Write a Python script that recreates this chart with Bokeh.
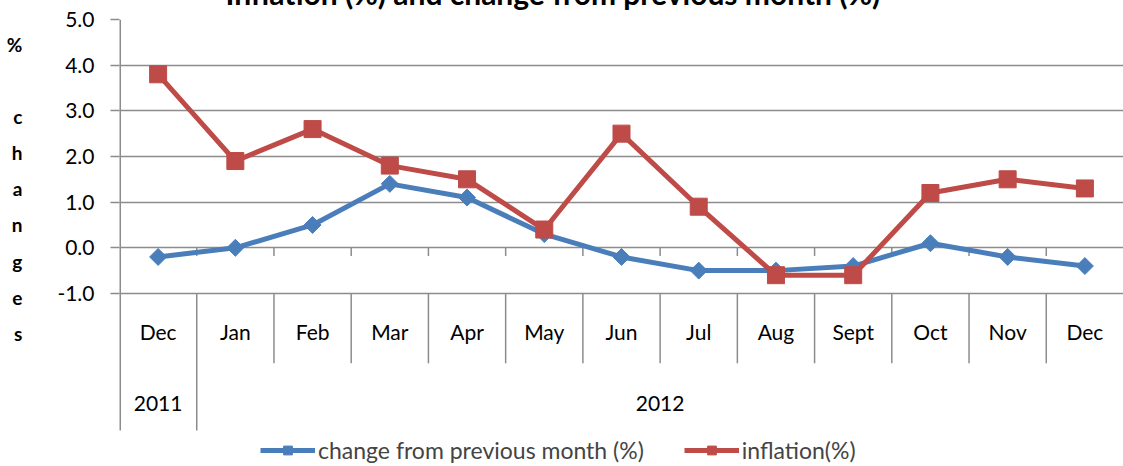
from bokeh.plotting import figure
from bokeh.models import (FactorRange, FixedTicker, Legend, LegendItem,
                          NumeralTickFormatter, ColumnDataSource, Range1d, CategoricalAxis)
from bokeh.embed import file_html
from bokeh.resources import INLINE
import math

# ---- data ----
years = ["2011"] + ["2012"] * 12
months = ["Dec", "Jan", "Feb", "Mar", "Apr", "May", "Jun", "Jul", "Aug", "Sept", "Oct", "Nov", "Dec"]
change_prev = [-0.2, 0.0, 0.5, 1.4, 1.1, 0.3, -0.2, -0.5, -0.5, -0.4, 0.1, -0.2, -0.4]
inflation = [3.8, 1.9, 2.6, 1.8, 1.5, 0.4, 2.5, 0.9, -0.6, -0.6, 1.2, 1.5, 1.3]
y_ticks = [-1.0, 0.0, 1.0, 2.0, 3.0, 4.0, 5.0]
title_text = "Inflation (%) and change from previous month (%)"
y_label = "% changes"
series_names = ["change from previous month (%)", "inflation(%)"]

FONT = "Lato"
GRID = "#8C8C8C"
BLUE = "#4A7EBB"
RED = "#BE4B48"

factors = list(zip(years, months))
src = ColumnDataSource(dict(x=factors, chg=change_prev, inf=inflation))

p = figure(x_range=FactorRange(*factors, factor_padding=0, group_padding=0, range_padding=0),
           y_range=Range1d(-4.79, 5.0),
           width=1123, height=507, output_backend="svg", toolbar_location=None,
           x_axis_location=None,
           min_border_left=119, min_border_right=0, min_border_top=60, min_border_bottom=0)
p.margin = (-41, 0, 0, 0)
p.outline_line_color = None
p.background_fill_color = "white"
p.border_fill_color = "white"

# title (its top is cut off by the page edge, as in the source image)
p.title.text = title_text
p.title.align = "left"
p.title.offset = 106
p.title.standoff = 17
p.title.text_font = FONT
p.title.text_font_size = "30px"
p.title.text_font_style = "bold"
p.title.text_color = "black"

# grid
p.xgrid.visible = False
p.ygrid.ticker = FixedTicker(ticks=y_ticks)
p.ygrid.grid_line_color = GRID
p.ygrid.grid_line_width = 1.5

# y axis
ya = p.yaxis[0]
ya.ticker = FixedTicker(ticks=y_ticks)
ya.formatter = NumeralTickFormatter(format="0.0")
ya.major_tick_out = 9
ya.major_tick_in = 0
ya.minor_tick_line_color = None
ya.axis_line_color = None
ya.major_tick_line_color = GRID
ya.major_tick_line_width = 1.5
ya.major_label_text_font = FONT
ya.major_label_text_font_size = "21px"
ya.major_label_text_color = "black"
ya.major_label_standoff = 16
# stacked vertical label: "%" then the letters of "changes"
word_pct, word_rest = y_label.split(" ")
ya.axis_label = "\n".join([word_pct, " "] + list(word_rest) + [" ", " ", " "])
ya.axis_label_orientation = "horizontal"
ya.axis_label_text_align = "center"
ya.axis_label_text_font = FONT
ya.axis_label_text_font_size = "19px"
ya.axis_label_text_font_style = "bold"
ya.axis_label_text_color = "black"
ya.axis_label_text_line_height = 1.57
ya.axis_label_standoff = 32


def cat_axis(loc, show_months, show_years):
    ax = CategoricalAxis(fixed_location=loc)
    ax.axis_line_color = None
    ax.major_tick_line_color = None
    ax.minor_tick_line_color = None
    ax.separator_line_color = None
    ax.major_label_text_font = FONT
    ax.major_label_text_font_size = "21px"
    ax.major_label_text_color = "black" if show_months else None
    ax.major_label_standoff = 20 if show_months else 28
    ax.group_text_font = FONT
    ax.group_text_font_size = "21px"
    ax.group_text_font_style = "normal"
    ax.group_text_color = "black" if show_years else None
    return ax


# month labels at the -1 line, year labels on a second axis further down
p.add_layout(cat_axis(-1.0, True, False), "below")
p.add_layout(cat_axis(-2.5, False, True), "below")

# left boundary line (value axis line) and category dividers below the axis
first = factors[0]
left_x = [(first[0], first[1], -0.5)]
p.segment(x0=left_x, x1=left_x, y0=[y_ticks[-1]], y1=[-4.0],
          line_color=GRID, line_width=3)
div_x = [(y, m, 0.5) for (y, m) in factors[:-1]]
div_bottom = [-4.0 if years[i] != years[i + 1] else -2.53 for i in range(len(factors) - 1)]
p.segment(x0=div_x, x1=div_x, y0=[-1.0] * len(div_x), y1=div_bottom,
          line_color=GRID, line_width=1.5)
# small tick marks on the zero line
p.segment(x0=div_x, x1=div_x, y0=[0.0] * len(div_x), y1=[-0.18] * len(div_x),
          line_color=GRID, line_width=1.5)

# series
l1 = p.line("x", "chg", source=src, line_color=BLUE, line_width=5, line_join="round")
m1 = p.scatter("x", "chg", source=src, marker="square", angle=math.pi / 4, size=12,
               fill_color=BLUE, line_color=BLUE)
l2 = p.line("x", "inf", source=src, line_color=RED, line_width=5, line_join="round")
m2 = p.scatter("x", "inf", source=src, marker="square", size=17,
               fill_color=RED, line_color=RED)

legend = Legend(items=[LegendItem(label=series_names[0], renderers=[l1, m1]),
                       LegendItem(label=series_names[1], renderers=[l2, m2])],
                orientation="horizontal", location=(141, 2),
                border_line_color=None, background_fill_alpha=0,
                padding=0, margin=0, spacing=40, glyph_width=55, glyph_height=22,
                label_standoff=3,
                label_text_font=FONT, label_text_font_size="23px")
p.add_layout(legend, "center")

open("out.html", "w").write(file_html(p, INLINE))
